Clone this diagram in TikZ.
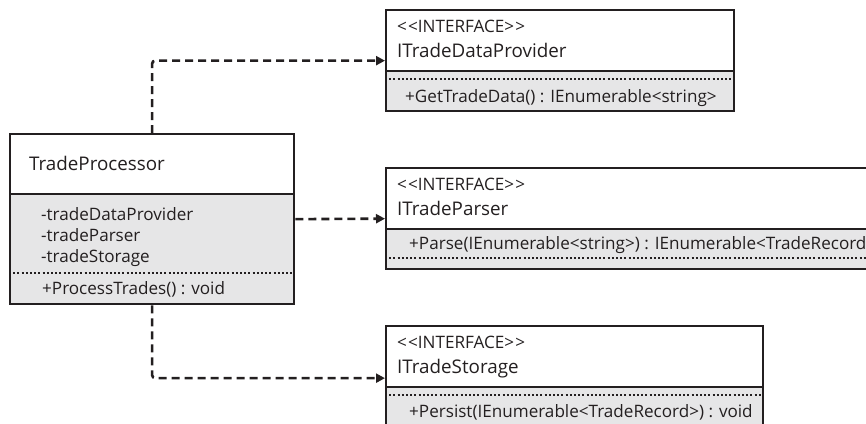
\documentclass[tikz,border=0pt]{standalone}
\usepackage{fontspec}
\setmainfont{Open Sans}
\usetikzlibrary{arrows.meta}
\definecolor{ink}{HTML}{231F20}
\definecolor{comp}{HTML}{E6E6E7}
\newcommand{\stereo}{<\kern1.2pt<INTERFACE>\kern1.2pt>}
\tikzset{
  box/.style={draw=ink, line width=2.3pt, rectangle, inner sep=0pt, anchor=north west},
  sep/.style={draw=ink, line width=2.3pt},
  dots/.style={draw=ink, line width=2pt, dash pattern=on 2pt off 2.2pt},
  txt/.style={anchor=base west, inner sep=0pt, text=ink},
  big/.style={txt, font=\fontsize{18.8}{18.8}\selectfont},
  small/.style={txt, font=\fontsize{17.1}{17.1}\selectfont},
  dep/.style={draw=ink, line width=2.6pt, dash pattern=on 8pt off 5pt, rounded corners=3pt,
    -{Triangle[length=9pt,width=9pt]}},
}
\begin{document}
\begin{tikzpicture}[x=1pt,y=-1pt]
\useasboundingbox (0,0) rectangle (866,423);
\clip (0,0) rectangle (866,423);
% compartment fills
\fill[comp] (9,194) rectangle (293,303);
\fill[comp] (385,71) rectangle (733,110);
\fill[comp] (385,229) rectangle (900,268);
\fill[comp] (385,387) rectangle (762,440);
% boxes
\node[box, minimum width=284pt, minimum height=170pt] (tp) at (9,133) {};
\node[box, minimum width=348pt, minimum height=101pt] (idp) at (385,9) {};
\node[box, minimum width=515pt, minimum height=101pt] (ipar) at (385,167) {};
\node[box, minimum width=377pt, minimum height=104pt] (ist) at (385,325) {};
% dividers
\draw[sep] (9,194) -- (293,194);
\draw[dots] (9,273) -- (293,273);
\draw[sep] (385,71) -- (733,71);
\draw[dots] (385,79) -- (733,79);
\draw[sep] (385,229) -- (900,229);
\draw[dots] (385,258) -- (900,258);
\draw[sep] (385,387) -- (762,387);
\draw[dots] (385,395) -- (762,395);
% texts
\node[big] (tpn) at (29,170) {TradeProcessor};
\node[small] (a1) at (41,220) {-tradeDataProvider};
\node[small] (a2) at (41,241) {-tradeParser};
\node[small] (a3) at (41,262) {-tradeStorage};
\node[small] (m0) at (42,294) {+ProcessTrades() : void};
\node[small] (s1) at (397,32) {\stereo};
\node[big] (n1) at (397,57) {ITradeDataProvider};
\node[small] (m1) at (405,102) {+GetTradeData() : IEnumerable<string>};
\node[small] (s2) at (397,190) {\stereo};
\node[big] (n2) at (397,215) {ITradeParser};
\node[small] (m2) at (409,249) {+Parse(IEnumerable<string>) : IEnumerable<TradeRecord>};
\node[small] (s3) at (397,348) {\stereo};
\node[big] (n3) at (397,373) {ITradeStorage};
\node[small] (m3) at (409,417) {+Persist(IEnumerable<TradeRecord>) : void};
% connectors
\draw[dep] (tp.north) |- (idp.west);
\draw[dep] (tp.east) -- (ipar.west);
\draw[dep] (tp.south) |- (ist.west);
\end{tikzpicture}
\end{document}
